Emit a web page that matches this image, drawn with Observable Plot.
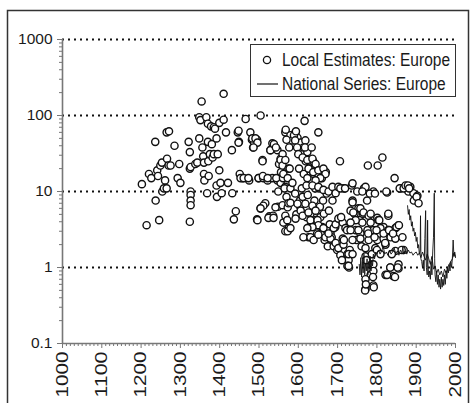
<!DOCTYPE html>
<html>
<head>
<meta charset="utf-8">
<script src="https://cdn.jsdelivr.net/npm/d3@7"></script>
<script src="https://cdn.jsdelivr.net/npm/@observablehq/plot@0.6"></script>
<style>
  html, body { margin: 0; padding: 0; background: #fff; }
  #wrap { position: relative; width: 470px; height: 403px; overflow: hidden; font-family: "Liberation Sans", Arial, sans-serif; }
  #chart { position: absolute; left: 0; top: 0; }
  #frame { position: absolute; left: 0; top: 0; z-index: 5; pointer-events: none; }
  #legend { position: absolute; z-index: 6; left: 250px; top: 44px; width: 204px; height: 51px; border: 1.3px solid #333; background: #fff; }
  #legend .t { position: absolute; left: 31px; font-size: 15.5px; color: #1a1a1a; transform: scaleY(1.18); transform-origin: left center; white-space: nowrap; line-height: 1; }
  #legend svg { position: absolute; left: 0; top: 0; }
</style>
</head>
<body>
<div id="wrap">
  <div id="chart"></div>
  <svg id="frame" width="470" height="403">
    <polyline points="7.5,403 7.5,10.5 468.5,10.5 468.5,403" fill="none" stroke="#333" stroke-width="1.5"></polyline>
  </svg>
  <div id="legend">
    <svg width="204" height="51">
      <circle cx="16" cy="15" r="3.6" fill="#fff" stroke="#111" stroke-width="1.3"></circle>
      <line x1="6" x2="27" y1="39" y2="39" stroke="#111" stroke-width="1.2"></line>
    </svg>
    <div class="t" style="top:7px">Local Estimates: Europe</div>
    <div class="t" style="top:31px">National Series: Europe</div>
  </div>
</div>
<script>
// Local estimates: [year, value]
const localEstimates = [
[1202,12.5],[1214,3.6],[1220,17],[1226,15],[1236,45],[1237,7.6],[1241,19],[1243,16],[1246,4.2],[1249,22],[1253,24],[1254,10],[1258,11],[1261,14],[1265,60],[1271,62],[1266,27],[1270,22],[1265,11],[1275,22],[1285,40],[1297,23],[1293,15],[1300,13],
[1321,45],[1324,33],[1324,20],[1326,21],[1326,10],[1326,9],[1326,7.6],[1326,6.6],[1324,4.0],[1338,23],[1343,24],[1348,50],[1348,95],[1354,153],[1351,87],[1356,38],[1358,29],[1360,24],[1360,17],[1361,14],[1366,95],[1368,9.5],[1370,78],[1370,45],[1371,25],[1372,16],[1375,31],[1378,72],[1380,42],[1382,28],[1385,70],[1385,31],[1388,67],[1392,50],[1392,12],[1393,8.5],[1395,31],[1399,80],[1399,19],[1402,13],[1405,9.5],
[1410,193],[1410,88],[1416,60],[1421,13],[1431,35],[1432,9.5],[1436,4.3],[1441,5.5],[1446,60],[1449,45],[1451,17],[1458,15],[1466,90],[1475,14],[1478,60],[1482,48],[1485,38],[1487,45],[1495,48],[1495,4.3],[1499,15],
[1448,63],[1448,44],[1483,50],[1491,50],[1496,44],[1486,38],[1509,26],[1534,43],[1529,35],[1542,38],[1547,35],
[1453,15],[1461,15],[1473,15],[1499,15],[1511,15],[1522,14],[1534,15],[1547,14],[1555,13],[1567,11.5],
[1504,100],[1504,6],[1509,25],[1510,16],[1516,7],[1522,15],[1526,4.7],[1529,35],[1536,4.8],[1538,42],[1543,38],[1544,15],[1548,6.3],[1549,10],[1551,23],[1555,27],[1556,18],[1560,31],[1561,15],[1565,11],
[1511,6.5],[1504,6],[1524,4.5],[1537,4.5],[1496,4.2],[1542,6.2],[1560,6.6],[1573,6.2],[1567,4.8],[1562,3.9],[1575,3.3],[1567,3],
[1567,60],[1580,55],[1593,60],[1598,51],[1585,47],[1606,44],[1618,47],[1613,38],[1623,33],
[1555,26],[1560,22],[1567,26],[1575,20],[1562,17],[1573,15],
[1568,65],[1570,48],[1570,8.5],[1572,4.2],[1573,3],[1575,7],[1577,38],[1578,20],[1580,11],[1580,3.3],[1585,13],[1589,55],[1592,47],[1592,9.4],[1594,62],[1595,5],[1597,38],[1600,31],[1602,20],[1604,7.6],[1605,6.3],[1609,11],[1611,8.5],[1614,17],[1616,85],[1617,38],[1619,25],[1621,12],[1621,4.6],[1622,6],[1624,9],[1626,2.5],[1628,3.4],[1629,20],[1631,5.1],[1634,38],[1638,25],[1639,17],[1641,7.6],[1643,11],[1644,4.2],[1648,2.8],[1650,17],[1651,60],[1653,11],[1655,6.3],[1656,4.6],[1658,2.8],[1660,15],[1661,3.4],[1663,7.6],[1665,5.1],[1667,2.3],[1670,18],[1672,9.4],[1673,3.1],[1675,1.9],[1678,5.6],[1680,3.7],[1682,2.8],[1685,2.5],[1687,7.6],[1690,1.9],[1694,3.4],[1699,1.7],
[1611,28],[1623,26],[1636,27],[1644,23],[1626,20],[1638,18],[1651,19],[1664,20],[1669,17],[1656,15],[1644,14],[1623,15],[1636,12],[1651,11.5],[1664,10.5],[1677,10],[1687,11.5],[1695,9.5],[1702,11.5],[1715,11],
[1580,7.1],[1598,6.9],[1606,5.6],[1593,4.4],[1611,4.8],[1618,6.9],[1636,6.5],[1626,5.3],[1644,5.6],[1631,4.2],[1649,4.2],[1651,3.6],[1636,3.4],[1623,3.3],[1613,2.5],[1631,2.5],[1639,2.3],[1651,2.7],[1664,3.3],[1669,2.5],[1682,2.4],[1677,2.8],[1690,3.3],[1695,3.7],[1702,4.4],[1713,3.9],[1720,3.3],[1713,2.4],[1695,2.1],[1702,1.8],[1715,2.0],[1707,1.45],[1725,1.5],[1728,1.25],[1725,1.05],
[1706,25],[1707,11],[1709,4.6],[1711,1.25],[1716,2.3],[1719,11],[1724,3.1],[1729,1.0],[1731,1.7],[1736,12],[1738,7.6],[1743,5.1],[1746,3.1],[1748,2.3],[1750,10],[1753,6],[1756,4.2],[1758,2.8],[1761,1.9],[1765,5.1],[1767,11],
[1738,12.8],[1771,11.5],[1763,10],[1791,10],[1826,9.7],[1860,11],[1885,11.5],[1880,10],[1893,9.5],[1903,8.8],
[1738,7.2],[1733,5.6],[1740,5.3],[1758,6.0],[1766,5.3],[1779,4.8],[1784,3.9],[1763,3.9],[1746,4.2],[1733,3.9],[1801,4.5],[1804,4.2],[1829,4.8],[1817,3.4],[1847,3.3],[1855,3.6],[1829,3.1],[1809,3.3],[1791,3.1],[1776,3.1],[1753,3.1],[1733,3.1],[1738,2.3],[1758,2.4],[1779,2.3],[1801,2.3],[1817,2.4],[1835,2.5],[1847,2.4],[1865,2.5],[1771,1.8],[1796,1.8],[1822,2.0],
[1728,1.5],[1738,1.5],[1728,1.05],[1771,1.4],[1791,1.1],[1784,0.8],[1791,0.9],[1771,0.7],[1791,0.58],[1771,0.52],[1822,0.8],[1842,0.77],[1834,1.0],[1855,0.97],[1855,1.1],[1847,1.65],[1868,1.7],
[1770,0.5],[1772,0.6],[1773,1.25],[1775,7.6],[1777,22],[1778,2.8],[1782,9.4],[1784,5.1],[1787,1.5],[1790,0.75],[1792,0.55],[1794,2.5],[1795,9.4],[1799,3.1],[1800,1.7],[1802,22],[1806,4.2],[1809,1.5],[1814,28],[1817,2.8],[1821,2.1],[1824,10],[1826,0.8],[1829,5.1],[1831,3.1],[1834,1.0],[1838,1.5],[1841,2.8],[1845,15],[1846,0.75],[1850,3.4],[1853,1.0],[1856,3.6],[1858,11],[1863,1.7],[1868,11],[1873,12],[1879,12],[1882,11],[1894,7.6],[1901,8.5],[1906,7]
];

// National series (two long series)
const nationalA = [
[1755,1.1],[1757,0.8],[1759,1.35],[1761,0.75],[1763,1.2],[1765,0.85],[1767,1.5],[1769,0.8],[1771,1.15],[1773,0.9],[1775,1.3],[1777,0.8],[1779,1.2],[1781,0.95],[1783,1.4],[1785,0.9],[1787,1.25],[1789,1.05],[1791,1.5],[1794,1.3],[1797,1.6],[1800,1.5],
[1804,1.7],[1808,1.5],[1812,1.65],[1816,1.9],[1820,1.5],[1824,1.6],[1828,1.45],[1832,1.7],[1836,1.5],[1840,1.6],[1844,1.8],[1848,1.5],[1852,1.65],[1856,1.45],[1860,1.7],[1864,1.55],[1866,1.9],[1868,1.5],[1872,1.65],[1876,1.5],[1880,1.7],[1884,1.55],[1888,1.6],[1892,1.45],[1896,1.55],[1900,1.6],[1904,1.45],[1908,1.55],[1912,1.35],[1916,1.6],[1920,1.4],[1924,1.25],[1928,1.5],[1932,1.3],[1936,1.1],[1940,1.4],[1944,0.95],[1948,1.05],[1952,0.85],[1956,0.95],[1960,0.8],[1964,0.9],[1968,0.75],[1972,0.95],[1976,0.85],[1980,1.0],[1984,1.1],[1988,1.2],[1992,1.3],[1996,1.55],[2000,1.35]
];
const nationalB = [
[1878,6.5],[1880,5.0],[1882,5.8],[1884,4.2],[1886,4.8],[1888,3.5],[1890,4.0],[1892,3.0],[1894,3.3],[1896,2.6],[1898,2.9],[1900,2.2],[1902,2.5],[1904,1.8],[1906,2.0],[1908,1.5],[1910,1.7],[1911,4.8],[1912,1.3],[1914,1.2],[1916,1.0],[1918,1.25],[1920,0.9],[1922,2.4],[1924,5.6],[1925,1.6],[1926,1.0],[1928,0.8],[1929,4.2],[1930,1.1],[1932,0.75],[1934,0.9],[1936,0.7],[1938,1.2],[1940,0.8],[1942,1.6],[1944,2.5],[1946,9.5],[1947,1.3],[1948,0.8],[1950,0.65],[1952,0.9],[1954,0.6],[1956,0.8],[1958,0.55],[1960,0.7],[1962,0.52],[1964,0.75],[1966,0.55],[1968,0.7],[1970,0.58],[1972,0.8],[1974,0.6],[1976,0.9],[1978,0.72],[1980,1.0],[1982,0.85],[1984,1.1],[1986,0.9],[1988,1.2],[1990,1.0],[1992,1.3],[1994,2.3],[1996,1.4],[1998,1.6],[2000,1.4]
];

const yTicks = [0.1, 1, 10, 100, 1000];
const gridValues = [1, 10, 100, 1000];
const xTicks = [1000,1100,1200,1300,1400,1500,1600,1700,1800,1900,2000];

const yMinor = [];
for (const base of [0.1, 1, 10, 100]) for (let k = 2; k <= 9; k++) yMinor.push(+(base * k).toPrecision(3));
const xMinor = d3.range(1000, 2001, 10).filter(d => d % 100 !== 0);

const seriesRows = [
  ...nationalA.map(([x, y]) => ({x, y, s: "A"})),
  ...nationalB.map(([x, y]) => ({x, y, s: "B"}))
];

const axisColor = "#777";
const chart = Plot.plot({
  width: 470,
  height: 403,
  marginLeft: 62,
  marginRight: 15,
  marginTop: 39,
  marginBottom: 60,
  style: {fontFamily: "'Liberation Sans', Arial, sans-serif", color: "#1a1a1a", background: "transparent"},
  x: {domain: [1000, 2000], label: null},
  y: {type: "log", domain: [0.1, 1000], label: null},
  marks: [
    Plot.ruleY(gridValues, {stroke: "#111", strokeWidth: 1.8, strokeDasharray: "2,4"}),
    Plot.axisY({ticks: yMinor, tickSize: 3, tickFormat: () => "", stroke: axisColor, label: null}),
    Plot.axisY({ticks: yTicks, tickSize: 5, tickPadding: 5, tickFormat: d => String(d), fontSize: 15.5, stroke: axisColor, label: null}),
    Plot.axisX({ticks: xMinor, tickSize: 3, tickFormat: () => "", stroke: axisColor, label: null}),
    Plot.axisX({ticks: xTicks, tickSize: 5, tickPadding: 3, tickRotate: -90, tickFormat: d => String(d), fontSize: 16, stroke: axisColor, label: null}),
    Plot.ruleX([1000], {stroke: axisColor, strokeWidth: 1.6}),
    Plot.ruleY([0.1], {stroke: axisColor, strokeWidth: 1.6}),
    Plot.dot(localEstimates, {x: d => d[0], y: d => d[1], r: 3.6, fill: "#fff", stroke: "#111", strokeWidth: 1.4}),
    Plot.line(seriesRows, {x: "x", y: "y", z: "s", stroke: "#111", strokeWidth: 0.9})
  ]
});
document.getElementById("chart").appendChild(chart);

// stretch rotated x labels to match the reference's tall glyphs
chart.querySelectorAll('g[aria-label="x-axis tick label"] text').forEach(t => {
  t.setAttribute("textLength", "46");
  t.setAttribute("lengthAdjust", "spacingAndGlyphs");
});
</script>
</body>
</html>
